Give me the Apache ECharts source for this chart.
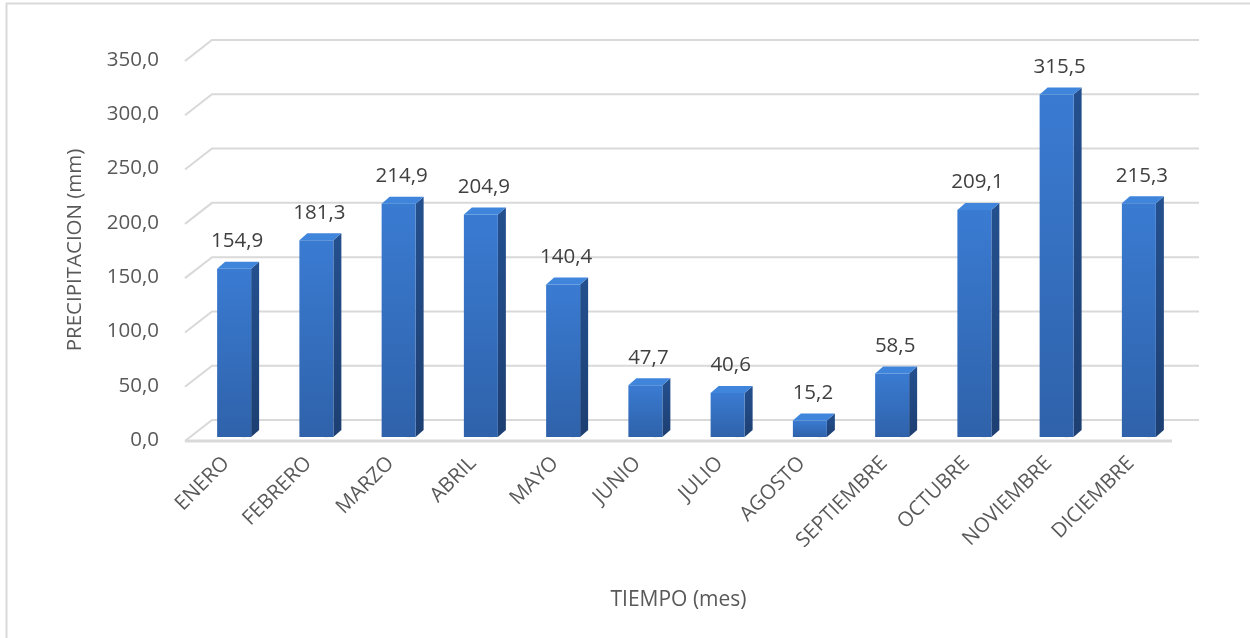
<!DOCTYPE html>
<html lang="es">
<head>
    <meta charset="UTF-8">
    <title>Precipitacion mensual</title>
    <script src="https://cdn.jsdelivr.net/npm/echarts@6/dist/echarts.min.js"></script>
    <style>
        html, body { margin: 0; padding: 0; background: #fff; }
        #main { width: 1250px; height: 638px; }
    </style>
</head>
<body>
<div id="main"></div>
<script type="text/javascript">
    // datos del grafico
    var meses = ['ENERO', 'FEBRERO', 'MARZO', 'ABRIL', 'MAYO', 'JUNIO', 'JULIO',
        'AGOSTO', 'SEPTIEMBRE', 'OCTUBRE', 'NOVIEMBRE', 'DICIEMBRE'];
    var precipitacion = [154.9, 181.3, 214.9, 204.9, 140.4, 47.7, 40.6, 15.2, 58.5, 209.1, 315.5, 215.3];
    var ticks = [0, 50, 100, 150, 200, 250, 300, 350];

    var fuente = '"Open Sans", "Noto Sans", sans-serif';
    var gris = '#595959';
    // desplazamiento de la pared del fondo (efecto 3D)
    var fondoX = 27, fondoY = -20;

    function coma(v) {
        return v.toFixed(1).replace('.', ',');
    }

    var myChart = echarts.init(document.getElementById('main'));
    myChart.setOption({
        animation: false,
        backgroundColor: '#fff',
        graphic: [{
            type: 'rect',
            shape: {x: 6.5, y: 3.5, width: 1300, height: 700},
            style: {fill: 'none', stroke: '#d9d9d9', lineWidth: 2}
        }],
        grid: {left: 185, right: 78, top: 60, bottom: 198},
        xAxis: {
            type: 'category',
            data: meses,
            name: 'TIEMPO (mes)',
            nameLocation: 'middle',
            nameGap: 150,
            nameTextStyle: {fontFamily: fuente, fontSize: 21, color: gris},
            axisLine: {show: false},
            axisTick: {show: false},
            axisLabel: {
                interval: 0,
                rotate: 45,
                margin: 20,
                fontFamily: fuente,
                fontSize: 20.5,
                color: gris
            }
        },
        yAxis: {
            type: 'value',
            min: 0,
            max: 350,
            interval: 50,
            name: 'PRECIPITACION (mm)',
            nameLocation: 'middle',
            nameRotate: 90,
            nameGap: 99,
            nameTextStyle: {fontFamily: fuente, fontSize: 20.5, color: gris},
            splitLine: {show: false},
            axisLine: {show: false},
            axisTick: {show: false},
            axisLabel: {
                margin: 26,
                fontFamily: fuente,
                fontSize: 20.5,
                color: gris,
                formatter: function (v) { return coma(v); }
            }
        },
        series: [
            {
                // lineas de division en perspectiva
                type: 'custom',
                silent: true,
                z: 1,
                data: ticks.map(function (t) { return [0, t]; }),
                renderItem: function (params, api) {
                    var cs = params.coordSys;
                    var y = api.coord([0, api.value(1)])[1];
                    var x0 = cs.x, x1 = cs.x + cs.width;
                    var children = [{
                        type: 'polyline',
                        shape: {points: [[x0, y + 1], [x0 + fondoX, y + fondoY], [x1 + fondoX, y + fondoY]]},
                        style: {stroke: '#d9d9d9', lineWidth: 2, fill: 'none'}
                    }];
                    if (api.value(1) === 0) {
                        children.push({
                            type: 'line',
                            shape: {x1: x0, y1: y + 1, x2: x1, y2: y + 1},
                            style: {stroke: '#d9d9d9', lineWidth: 3}
                        });
                    }
                    return {type: 'group', children: children};
                }
            },
            {
                name: 'Precipitacion',
                type: 'custom',
                z: 2,
                data: precipitacion.map(function (v, i) { return [i, v]; }),
                renderItem: function (params, api) {
                    var i = api.value(0), v = api.value(1);
                    var base = api.coord([i, 0]);
                    var top = api.coord([i, v]);
                    var w = 34, dx = 8, dy = 7;
                    var fx = base[0] - 9;
                    var by = base[1] - 3;
                    var ty = top[1] - 3;
                    return {
                        type: 'group',
                        children: [
                            {
                                // sombra en el piso
                                type: 'ellipse',
                                shape: {cx: fx + w / 2 + 10, cy: by - 3, rx: w / 2 + 14, ry: 5},
                                style: {
                                    fill: new echarts.graphic.RadialGradient(0.5, 0.5, 0.5, [
                                        {offset: 0, color: 'rgba(0,0,0,0.22)'},
                                        {offset: 1, color: 'rgba(0,0,0,0)'}
                                    ])
                                }
                            },
                            {
                                type: 'polygon',
                                shape: {points: [[fx + w, ty], [fx + w + dx, ty - dy], [fx + w + dx, by - dy], [fx + w, by]]},
                                style: {
                                    fill: new echarts.graphic.LinearGradient(0, 0, 0, 1, [
                                        {offset: 0, color: '#24508f'},
                                        {offset: 1, color: '#1d3f72'}
                                    ])
                                }
                            },
                            {
                                type: 'polygon',
                                shape: {points: [[fx, ty], [fx + dx, ty - dy], [fx + w + dx, ty - dy], [fx + w, ty]]},
                                style: {fill: '#3f85dc'}
                            },
                            {
                                type: 'rect',
                                shape: {x: fx, y: ty, width: w, height: by - ty},
                                style: {
                                    fill: new echarts.graphic.LinearGradient(0, 0, 0, 1, [
                                        {offset: 0, color: '#3a7bd2'},
                                        {offset: 1, color: '#2f62aa'}
                                    ])
                                }
                            },
                            {
                                type: 'text',
                                x: fx + w / 2 + 3,
                                y: ty - dy - 10,
                                style: {
                                    text: coma(v),
                                    fontFamily: fuente,
                                    fontSize: 20.5,
                                    fill: '#404040',
                                    align: 'center',
                                    verticalAlign: 'bottom'
                                }
                            }
                        ]
                    };
                }
            }
        ]
    });
</script>
</body>
</html>
